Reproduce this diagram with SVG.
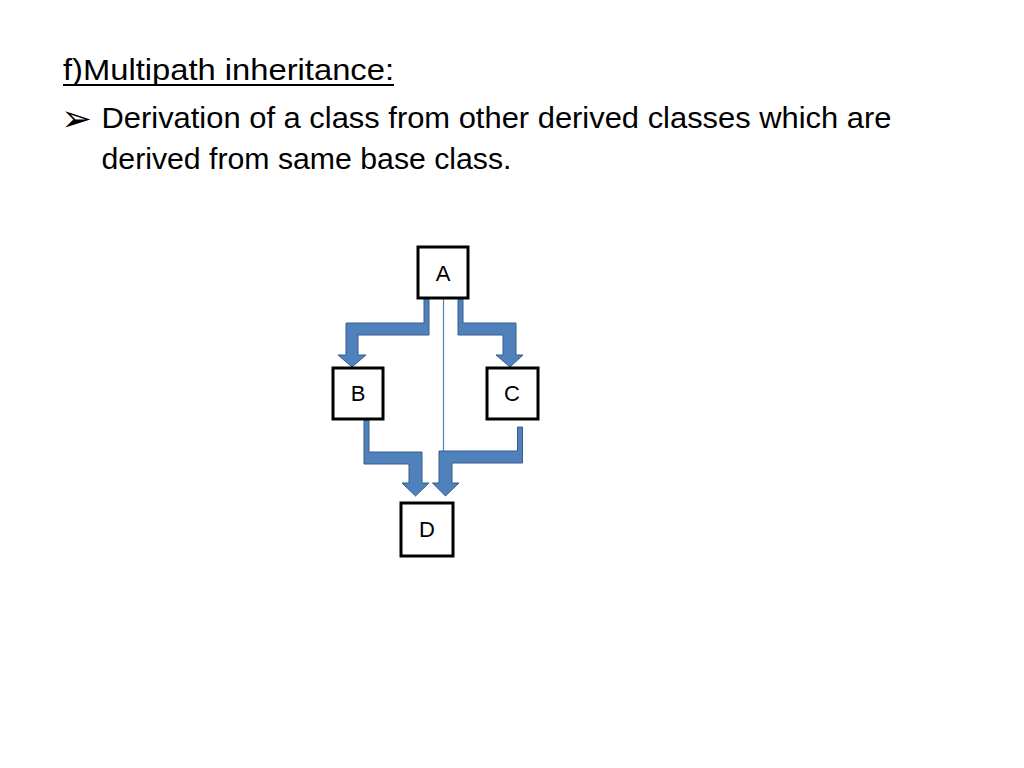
<svg xmlns="http://www.w3.org/2000/svg" width="1024" height="768" viewBox="0 0 1024 768">
<style>
.t{font-family:"Liberation Sans",Arial,sans-serif;font-size:30px;fill:#000}
.box{fill:#fff;stroke:#000;stroke-width:3}
.lbl{font-family:"Liberation Sans",Arial,sans-serif;font-size:22px;fill:#000;text-anchor:middle}
.arr{fill:#4F81BD;stroke:#385D8A;stroke-width:1;stroke-linejoin:miter}
</style>
<rect width="1024" height="768" fill="#fff"/>
<g id="text">
<text class="t" x="63" y="80" textLength="331" lengthAdjust="spacingAndGlyphs">f)Multipath inheritance:</text>
<rect x="63" y="84" width="331" height="2" fill="#000"/>
<text x="61" y="131" font-family="DejaVu Sans,sans-serif" font-size="37" fill="#000">➢</text>
<text class="t" x="101.5" y="128" textLength="790" lengthAdjust="spacingAndGlyphs">Derivation of a class from other derived classes which are</text>
<text class="t" x="101.5" y="169" textLength="410" lengthAdjust="spacingAndGlyphs">derived from same base class.</text>
</g>
<g id="connectors">
<line x1="443.5" y1="298" x2="443.5" y2="452" stroke="#4F81BD" stroke-width="1.2"/>
<polygon class="arr" points="424,298 429,298 429,335 358,335 358,355 366,355 352,367 338,355 346,355 346,323 424,323"/>
<polygon class="arr" points="458,298 463,298 463,323 516,323 516,355 523,355 510,367 496,355 503,355 503,335 458,335"/>
<polygon class="arr" points="364,420 369,420 369,452 422,452 422,483 429,483 415.5,496 402,483 409,483 409,464 364,464"/>
<polygon class="arr" points="517.5,427 522.5,427 522.5,463 452,463 452,483 459,483 445.5,496 432.5,483 439,483 439,451 517.5,451"/>
</g>
<g id="nodeA"><rect class="box" x="418" y="247" width="50" height="51"/><text class="lbl" x="443" y="281">A</text></g>
<g id="nodeB"><rect class="box" x="333" y="368" width="50" height="51"/><text class="lbl" x="358" y="401">B</text></g>
<g id="nodeC"><rect class="box" x="487" y="368" width="51" height="51"/><text class="lbl" x="512" y="401">C</text></g>
<g id="nodeD"><rect class="box" x="401" y="503" width="52" height="53"/><text class="lbl" x="427" y="537">D</text></g>
</svg>
